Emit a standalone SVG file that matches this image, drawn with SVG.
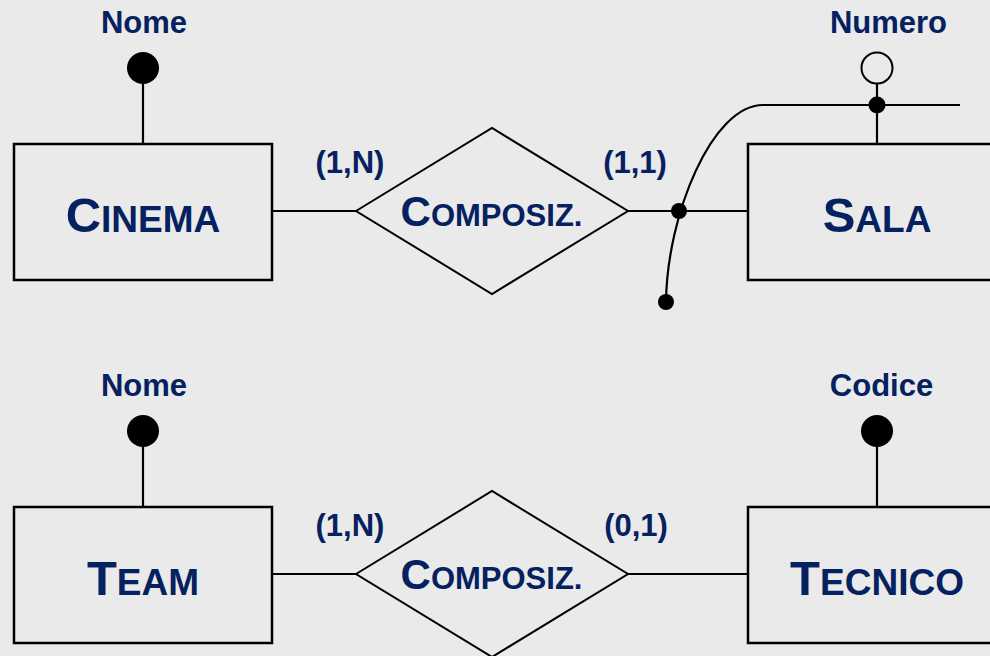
<svg xmlns="http://www.w3.org/2000/svg" width="990" height="656" viewBox="0 0 990 656">
<style>
text{font-family:"Liberation Sans",Arial,sans-serif;font-weight:bold;fill:#06215F}
.ent{fill:none;stroke:#000;stroke-width:2.5}
.rel{fill:none;stroke:#000;stroke-width:2}
.ln{fill:none;stroke:#000;stroke-width:2.2}
.dot{fill:#000}
.hol{fill:none;stroke:#000;stroke-width:2}
.lbl{font-size:31px;text-anchor:middle}
.big{font-size:49px}
.sm{font-size:37px}
.rb{font-size:42px}
.rs{font-size:31px}
.nm{text-anchor:middle}
</style>
<rect width="990" height="656" fill="#EAEAEA"/>
<g id="connectors">
<line class="ln" x1="143" y1="68" x2="143" y2="144"/>
<line class="ln" x1="272" y1="211" x2="356" y2="211"/>
<line class="ln" x1="628" y1="211" x2="748" y2="211"/>
<line class="ln" x1="877" y1="84" x2="877" y2="144"/>
<path class="ln" d="M666 302 C667 215 712 105 763 105 L960 105"/>
<line class="ln" x1="143" y1="431" x2="143" y2="507"/>
<line class="ln" x1="272" y1="574" x2="356" y2="574"/>
<line class="ln" x1="628" y1="574" x2="748" y2="574"/>
<line class="ln" x1="877" y1="431" x2="877" y2="507"/>
<circle class="dot" cx="679" cy="211" r="8"/>
<circle class="dot" cx="666" cy="302" r="8"/>
<circle class="dot" cx="877" cy="105" r="8.5"/>
</g>
<g id="attr-cinema-nome">
<circle class="dot" cx="143" cy="68" r="16"/>
<text class="lbl" x="144" y="33">Nome</text>
</g>
<g id="attr-sala-numero">
<circle class="hol" cx="877" cy="68" r="15.5" fill="#EAEAEA"/>
<text class="lbl" x="888.5" y="33">Numero</text>
</g>
<g id="cinema">
<rect class="ent" x="14" y="144" width="258" height="136"/>
<text class="nm" x="143" y="232"><tspan class="big">C</tspan><tspan class="sm">INEMA</tspan></text>
</g>
<g id="composiz1">
<polygon class="rel" points="356,211 492,128 628,211 492,294"/>
<text class="nm" x="491.5" y="226"><tspan class="rb">C</tspan><tspan class="rs">OMPOSIZ.</tspan></text>
</g>
<g id="sala">
<rect class="ent" x="748" y="144" width="260" height="136"/>
<text class="nm" x="877" y="232"><tspan class="big">S</tspan><tspan class="sm">ALA</tspan></text>
</g>
<g id="card1">
<text class="lbl" x="350" y="173">(1,N)</text>
<text class="lbl" x="635" y="173">(1,1)</text>
</g>
<g id="attr-team-nome">
<circle class="dot" cx="143" cy="431" r="16"/>
<text class="lbl" x="144" y="396">Nome</text>
</g>
<g id="attr-tecnico-codice">
<circle class="dot" cx="877" cy="431" r="16"/>
<text class="lbl" x="881.5" y="396">Codice</text>
</g>
<g id="team">
<rect class="ent" x="14" y="507" width="258" height="136"/>
<text class="nm" x="143" y="595"><tspan class="big">T</tspan><tspan class="sm">EAM</tspan></text>
</g>
<g id="composiz2">
<polygon class="rel" points="356,574 492,491 628,574 492,657"/>
<text class="nm" x="491.5" y="589"><tspan class="rb">C</tspan><tspan class="rs">OMPOSIZ.</tspan></text>
</g>
<g id="tecnico">
<rect class="ent" x="748" y="507" width="260" height="136"/>
<text class="nm" x="877" y="595"><tspan class="big">T</tspan><tspan class="sm">ECNICO</tspan></text>
</g>
<g id="card2">
<text class="lbl" x="350" y="536">(1,N)</text>
<text class="lbl" x="636" y="536">(0,1)</text>
</g>
</svg>
